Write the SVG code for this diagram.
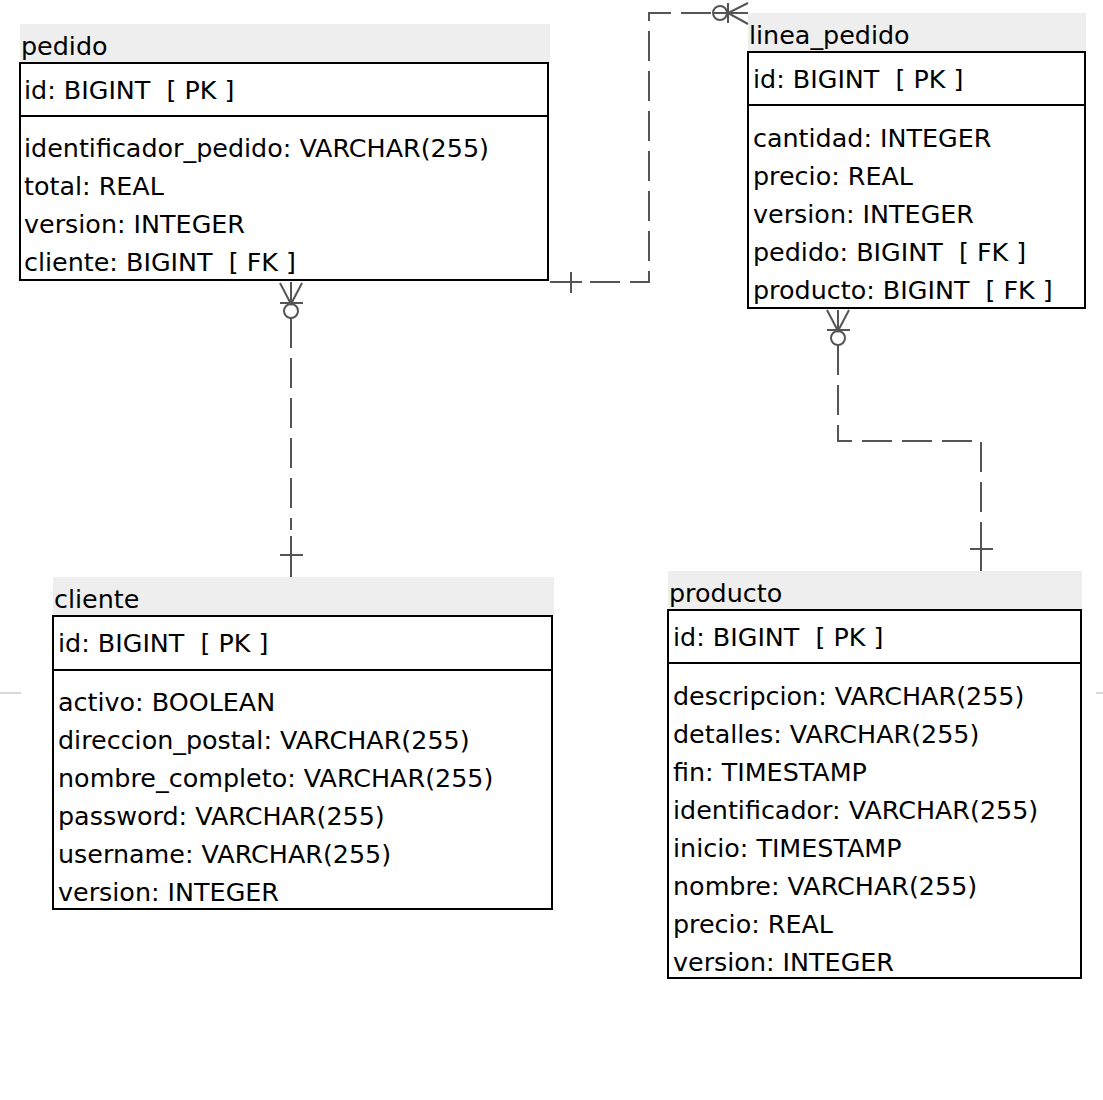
<svg xmlns="http://www.w3.org/2000/svg" width="1103" height="1100" viewBox="0 0 1103 1100">
<style>
text{font-family:"DejaVu Sans",sans-serif;font-size:25.4px;fill:#000;white-space:pre}
.hd{fill:#eeeeee;stroke:none}
.bx{fill:#fff;stroke:#000;stroke-width:2}
.dv{stroke:#000;stroke-width:2}
.cn{fill:none;stroke:#555;stroke-width:2;stroke-dasharray:30 10}
.mk{fill:none;stroke:#555;stroke-width:2}
.st{stroke:#ccc;stroke-width:1.5}
</style>
<rect width="1103" height="1100" fill="#fff"/>
<line class="st" x1="0" y1="693" x2="21" y2="693"/>
<line class="st" x1="1096" y1="693" x2="1103" y2="693"/>
<g id="pedido">
<rect class="hd" x="20" y="24" width="530" height="39"/>
<text x="21" y="55" xml:space="preserve">pedido</text>
<rect class="bx" x="20" y="63" width="528" height="217"/>
<line class="dv" x1="20" y1="116" x2="548" y2="116"/>
<text x="24" y="99" xml:space="preserve">id: BIGINT  [ PK ]</text>
<text x="24" y="157" xml:space="preserve">identificador_pedido: VARCHAR(255)</text>
<text x="24" y="195" xml:space="preserve">total: REAL</text>
<text x="24" y="233" xml:space="preserve">version: INTEGER</text>
<text x="24" y="271" xml:space="preserve">cliente: BIGINT  [ FK ]</text>
</g>
<g id="linea_pedido">
<rect class="hd" x="748" y="13" width="338" height="39"/>
<text x="749" y="44" xml:space="preserve">linea_pedido</text>
<rect class="bx" x="748" y="52" width="337" height="256"/>
<line class="dv" x1="748" y1="105" x2="1085" y2="105"/>
<text x="753" y="88" xml:space="preserve">id: BIGINT  [ PK ]</text>
<text x="753" y="147" xml:space="preserve">cantidad: INTEGER</text>
<text x="753" y="185" xml:space="preserve">precio: REAL</text>
<text x="753" y="223" xml:space="preserve">version: INTEGER</text>
<text x="753" y="261" xml:space="preserve">pedido: BIGINT  [ FK ]</text>
<text x="753" y="299" xml:space="preserve">producto: BIGINT  [ FK ]</text>
</g>
<g id="cliente">
<rect class="hd" x="53" y="577" width="501" height="39"/>
<text x="54" y="608" xml:space="preserve">cliente</text>
<rect class="bx" x="53" y="616" width="499" height="293"/>
<line class="dv" x1="53" y1="670" x2="552" y2="670"/>
<text x="58" y="652" xml:space="preserve">id: BIGINT  [ PK ]</text>
<text x="58" y="711" xml:space="preserve">activo: BOOLEAN</text>
<text x="58" y="749" xml:space="preserve">direccion_postal: VARCHAR(255)</text>
<text x="58" y="787" xml:space="preserve">nombre_completo: VARCHAR(255)</text>
<text x="58" y="825" xml:space="preserve">password: VARCHAR(255)</text>
<text x="58" y="863" xml:space="preserve">username: VARCHAR(255)</text>
<text x="58" y="901" xml:space="preserve">version: INTEGER</text>
</g>
<g id="producto">
<rect class="hd" x="668" y="571" width="414" height="39"/>
<text x="669" y="602" xml:space="preserve">producto</text>
<rect class="bx" x="668" y="610" width="413" height="368"/>
<line class="dv" x1="668" y1="663" x2="1081" y2="663"/>
<text x="673" y="646" xml:space="preserve">id: BIGINT  [ PK ]</text>
<text x="673" y="705" xml:space="preserve">descripcion: VARCHAR(255)</text>
<text x="673" y="743" xml:space="preserve">detalles: VARCHAR(255)</text>
<text x="673" y="781" xml:space="preserve">fin: TIMESTAMP</text>
<text x="673" y="819" xml:space="preserve">identificador: VARCHAR(255)</text>
<text x="673" y="857" xml:space="preserve">inicio: TIMESTAMP</text>
<text x="673" y="895" xml:space="preserve">nombre: VARCHAR(255)</text>
<text x="673" y="933" xml:space="preserve">precio: REAL</text>
<text x="673" y="971" xml:space="preserve">version: INTEGER</text>
</g>
<g id="connectors">
<path class="cn" d="M590 282 H649 V13 H712"/>
<path class="mk" d="M550 282 H582 M571 272 V293"/>
<path class="mk" d="M714 13 H748 M728 3 V23 M748 3 L728 13 L748 24"/>
<circle class="mk" cx="720" cy="13" r="7" fill="#fff"/>
<path class="cn" d="M291 318 V530"/>
<path class="mk" d="M291 282 V304 M280 283 L291 304 L302 283 M280 303 H303"/>
<circle class="mk" cx="291" cy="311" r="7" fill="#fff"/>
<path class="mk" d="M291 536 V577 M280 555 H303"/>
<path class="cn" d="M838 345 V441 H981 V540"/>
<path class="mk" d="M838 310 V331 M827 310 L838 331 L849 310 M827 330 H850"/>
<circle class="mk" cx="838" cy="338" r="7" fill="#fff"/>
<path class="mk" d="M981 540 V571 M970 549 H993"/>
</g>
</svg>
